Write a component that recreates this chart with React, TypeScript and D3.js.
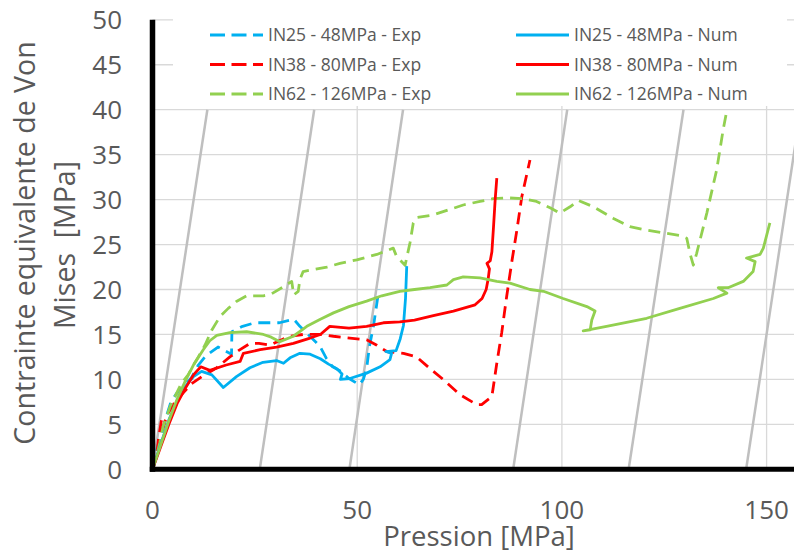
import React from "react";
import * as d3 from "d3";

type P = [number, number];

const blueExp: P[] = [[0,0],[1.2,2.5],[2,3.5],[3,5.3],[4.5,7.5],[6,8.5],[7.5,9.2],[9.5,10.2],[11.2,11.6],[13,12.6],[16,13.6],[19.3,12.8],[19.4,15.3],[22,15.9],[25,16.3],[28.5,16.3],[31,16.3],[34.5,16.7],[36,15.9],[38,15],[40,14.1],[41,13.6],[42.5,12.3],[44,11.4],[46,10.9],[48,10.1],[50.5,9.4],[51.5,10],[52.3,11.2],[53,13.7],[54,16],[55.3,20]];
const blueNum: P[] = [[0,0],[2,2.8],[4,5.5],[6,7.6],[8,9.2],[10,10.3],[12,10.9],[14.5,10.5],[17.3,9.1],[20.5,10.3],[23.8,11.3],[27,11.9],[30.3,12.1],[32,11.8],[33.6,12.4],[36,12.9],[38.5,12.8],[41,12.3],[43,11.7],[45,11.2],[46.3,10.6],[45.9,10.0],[48.2,10.1],[52.3,10.7],[55.6,11.4],[58,12.2],[58.4,12.9],[57,13.1],[59.5,13.2],[60.5,14.5],[61.3,16],[61.8,19],[62.1,22.6]];
const redExp: P[] = [[0,0],[1,1.5],[1.5,3.5],[2.2,5.5],[2.5,4.5],[3.5,6],[5.5,7.5],[7.5,8.5],[9.5,9.5],[12,10.3],[15.7,11.3],[18.9,12.5],[21,13.2],[23.8,14.0],[26,14.0],[28.7,13.8],[31,14.3],[33.6,14.8],[36.8,15.0],[40.9,15.0],[44.2,14.8],[48.2,14.6],[52.3,14.4],[54.8,13.8],[57.2,13.1],[61.3,12.9],[64.5,12.5],[67.8,11.2],[71,10],[75.1,8.3],[79.2,7.2],[80.4,7.2],[82.9,8.1],[84.1,11.8],[85.3,15.2],[86.5,19.2],[87.7,22.9],[89,26.6],[90.2,30.3],[92.2,34.4]];
const redNum: P[] = [[0,0],[2,2.5],[4,5],[6,7.3],[8,9],[10,10.5],[11.8,11.4],[14,11.0],[18,11.6],[21.4,12.0],[22.2,12.9],[26.3,13.3],[30.3,13.6],[34.4,14.0],[38.5,14.6],[41,15],[43.3,15.9],[48,15.7],[52.3,15.9],[56.4,16.3],[60.4,16.4],[64,16.6],[68.6,17.1],[73.5,17.6],[78.8,18.3],[80.5,19],[81.5,20],[82,21.2],[82.3,22.3],[81.7,22.9],[82.5,23.2],[82.9,24.2],[83.3,27],[83.7,30],[84.1,32.4]];
const greenExp: P[] = [[0,0],[1,1.5],[1.8,3],[2.6,4.8],[3.5,5.9],[4.3,7],[5.5,8.1],[7.1,9.6],[8.7,10.5],[10,11.6],[11.2,12.5],[12.8,13.8],[14.5,15.5],[16.5,17],[18.5,17.9],[20.6,18.7],[23,19.3],[27.1,19.3],[29,19.5],[32,20.3],[34,20.9],[34.5,19.4],[35.6,19.8],[36,21.1],[36.8,22],[42.6,22.5],[45.8,22.9],[49.9,23.3],[54.8,23.9],[58.8,24.6],[59.6,23.7],[61.7,22.7],[62.9,25.2],[63.7,27.4],[64.5,28],[68.6,28.3],[71.9,28.8],[75.9,29.4],[80,29.8],[83.2,30.1],[86.5,30.2],[90.6,30.1],[93.8,29.8],[97.1,29.1],[99.5,28.5],[102,29.2],[104,29.9],[107.7,29.2],[112.6,27.9],[116.6,27.0],[120.7,26.6],[124.8,26.3],[128.8,26.0],[130.5,25.7],[131.3,24.0],[132.1,22.7],[132.9,24],[135.4,28.5],[137.8,33.3],[139.4,37.8],[140.4,40.2]];
const greenNum: P[] = [[0,0],[2,2.7],[4,5.4],[6,7.8],[8,9.8],[10,11.6],[12.4,13.3],[14,14.3],[15.7,14.9],[18.9,15.2],[23,15.3],[27.1,15.0],[29,14.7],[31.1,14.2],[34.4,14.8],[37.7,15.9],[41,16.7],[44.2,17.4],[48,18.1],[52.3,18.7],[56,19.3],[60.4,19.8],[64,20.0],[67.8,20.2],[71.9,20.5],[73.5,21.1],[75.9,21.4],[80,21.3],[84.1,20.9],[87.3,20.7],[92.2,20.0],[95.5,19.8],[100.3,19.0],[106.1,18.1],[108.1,17.6],[107.3,16.6],[106.9,15.5],[105.2,15.4],[110.9,15.9],[120.7,16.8],[128.8,17.9],[137,19.0],[140.3,19.6],[138.2,20.2],[140.6,20.2],[144.3,20.9],[146.7,22],[147.2,23.1],[145.1,23.5],[148.4,23.9],[149.2,24.6],[150.8,27.4]];

const diagStarts = [0, 26.2, 48.1, 88.1, 116.3, 145.0];
const diagEnds = [13.4, 39.5, 61.2, 101.3, 129.7, 158.3];
const diagTop = 40;

const xTicks = [0, 50, 100, 150];
const yTicks = [0, 5, 10, 15, 20, 25, 30, 35, 40, 45, 50];

const seriesNames = [
  "IN25 - 48MPa - Exp", "IN38 - 80MPa - Exp", "IN62 - 126MPa - Exp",
  "IN25 - 48MPa - Num", "IN38 - 80MPa - Num", "IN62 - 126MPa - Num",
];
const seriesData = [blueExp, redExp, greenExp, blueNum, redNum, greenNum];
const seriesColors = ["#00B0F0", "#FF0000", "#92D050", "#00B0F0", "#FF0000", "#92D050"];
const seriesDashed = [true, true, true, false, false, false];

const W = 794, H = 553;
const FONT = "'Open Sans', sans-serif";

export default function App() {
  const x = d3.scaleLinear().domain([0, 160]).range([152.5, 152.5 + 160 * 4.094]);
  const y = d3.scaleLinear().domain([0, 50]).range([469.3, 19.8]);
  const line = d3.line<P>().x(d => x(d[0])).y(d => y(d[1]));
  const x0 = x(0), xR = W;
  const legendX = [210, 516];
  const legendY = [35, 64.5, 94];

  return (
    <svg width={W} height={H} style={{ position: "absolute", left: 0, top: 0, background: "#fff" }}>
      <defs>
        <clipPath id="plot">
          <rect x={x0} y={y(50) - 2} width={xR - x0} height={y(0) - y(50) + 4} />
        </clipPath>
      </defs>
      <rect x={0} y={0} width={W} height={H} fill="#fff" />
      {yTicks.filter(t => t > 0).map(t => (
        <line key={"gy" + t} x1={x0} x2={xR} y1={y(t)} y2={y(t)} stroke="#d9d9d9" strokeWidth={1.3} />
      ))}
      {xTicks.filter(t => t > 0).map(t => (
        <line key={"gx" + t} x1={x(t)} x2={x(t)} y1={y(0)} y2={y(50)} stroke="#d9d9d9" strokeWidth={1.3} />
      ))}
      <g clipPath="url(#plot)">
        {diagStarts.map((s, i) => (
          <line key={"d" + i} x1={x(s)} y1={y(0)} x2={x(diagEnds[i])} y2={y(diagTop)} stroke="#bfbfbf" strokeWidth={2.5} />
        ))}
        {seriesData.map((d, i) => (
          <path key={"s" + i} d={line(d) || ""} fill="none" stroke={seriesColors[i]} strokeWidth={2.8}
            strokeDasharray={seriesDashed[i] ? "12,7" : undefined} strokeLinejoin="round" />
        ))}
      </g>
      <line x1={x0} x2={x0} y1={y(50)} y2={y(0) + 2.5} stroke="#000" strokeWidth={5.5} />
      <line x1={x0 - 2.75} x2={xR} y1={y(0)} y2={y(0)} stroke="#000" strokeWidth={5} />
      <rect x={173} y={8} width={614} height={98} fill="#fff" />
      {seriesNames.map((n, i) => {
        const col = Math.floor(i / 3), row = i % 3;
        const lx = legendX[col], ly = legendY[row];
        return (
          <g key={"l" + i}>
            <line x1={lx} x2={lx + 53} y1={ly} y2={ly} stroke={seriesColors[i]} strokeWidth={2.8}
              strokeDasharray={seriesDashed[i] ? "15,6.5" : undefined} />
            <text x={lx + 58} y={ly} dy="0.35em" fontFamily={FONT} fontSize={17.5} fill="#595959">{n}</text>
          </g>
        );
      })}
      {yTicks.map(t => (
        <text key={"ty" + t} x={122} y={y(t)} dy="0.36em" textAnchor="end" fontFamily={FONT} fontSize={26} fill="#595959">{t}</text>
      ))}
      {xTicks.map(t => (
        <text key={"tx" + t} x={x(t)} y={519} textAnchor="middle" fontFamily={FONT} fontSize={26} fill="#595959">{t}</text>
      ))}
      <text x={479} y={546} textAnchor="middle" fontFamily={FONT} fontSize={27.5} fill="#595959">Pression [MPa]</text>
      <text transform="translate(35,243) rotate(-90)" textAnchor="middle" fontFamily={FONT} fontSize={28.5} fill="#595959">Contrainte equivalente de Von</text>
      <text transform="translate(75,245) rotate(-90)" textAnchor="middle" fontFamily={FONT} fontSize={28.5} fill="#595959" style={{ whiteSpace: "pre" }}>{"Mises  [MPa]"}</text>
    </svg>
  );
}
